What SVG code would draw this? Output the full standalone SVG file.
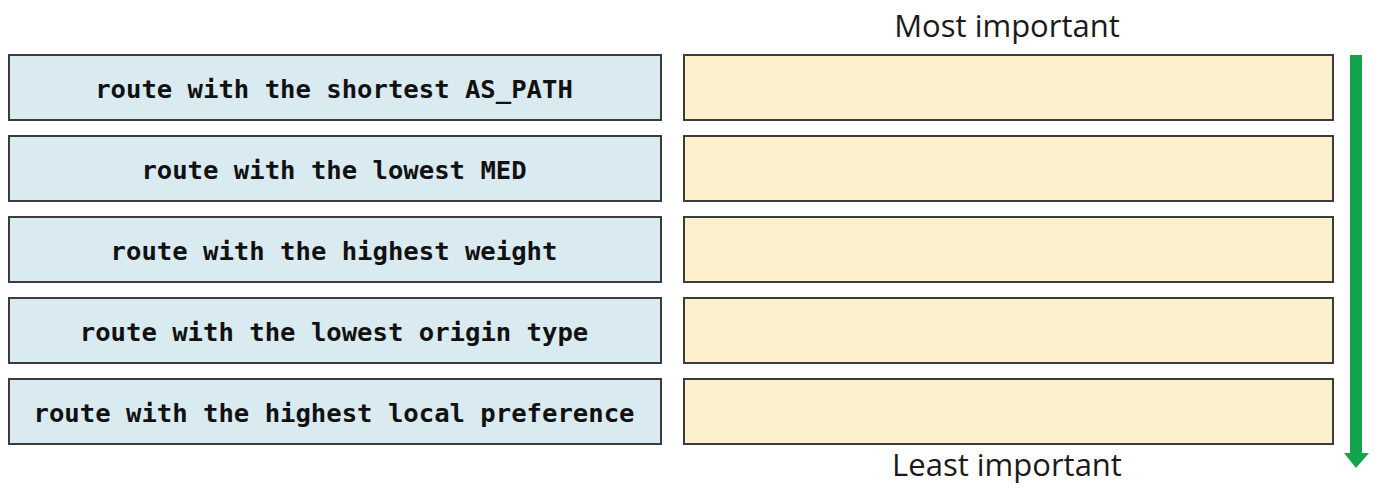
<svg xmlns="http://www.w3.org/2000/svg" width="1375" height="488" viewBox="0 0 1375 488">
<style>
.l{fill:#daeaf1;stroke:#3c3c3c;stroke-width:2}
.r{fill:#fdf0cd;stroke:#3c3c3c;stroke-width:2}
.t{font-family:"DejaVu Sans Mono","Liberation Mono",monospace;font-weight:bold;font-size:25.6px;fill:#111;text-anchor:middle}
.h{font-family:"Open Sans","Liberation Sans",sans-serif;font-size:31px;fill:#1a1a1a;text-anchor:middle}
</style>
<rect width="1375" height="488" fill="#fff"/>
<text class="h" x="1007" y="37">Most important</text>
<text class="h" x="1007" y="476">Least important</text>
<g id="n1"><rect class="l" x="9" y="55" width="652" height="65"/><text class="t" x="334" y="98">route with the shortest AS_PATH</text></g>
<g id="n2"><rect class="l" x="9" y="136" width="652" height="65"/><text class="t" x="334" y="179">route with the lowest MED</text></g>
<g id="n3"><rect class="l" x="9" y="217" width="652" height="65"/><text class="t" x="334" y="260">route with the highest weight</text></g>
<g id="n4"><rect class="l" x="9" y="298" width="652" height="65"/><text class="t" x="334" y="341">route with the lowest origin type</text></g>
<g id="n5"><rect class="l" x="9" y="379" width="652" height="65"/><text class="t" x="334" y="422">route with the highest local preference</text></g>
<g id="s1"><rect class="r" x="684" y="55" width="649" height="65"/></g>
<g id="s2"><rect class="r" x="684" y="136" width="649" height="65"/></g>
<g id="s3"><rect class="r" x="684" y="217" width="649" height="65"/></g>
<g id="s4"><rect class="r" x="684" y="298" width="649" height="65"/></g>
<g id="s5"><rect class="r" x="684" y="379" width="649" height="65"/></g>
<g id="connectors">
<rect x="1350" y="55" width="12" height="400" fill="#13a54b"/>
<polygon points="1344,453 1369,453 1356,468" fill="#13a54b"/>
</g>
</svg>
